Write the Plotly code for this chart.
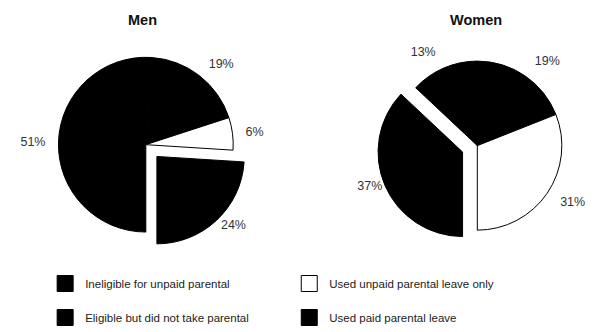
import plotly.graph_objects as go

# ---- data ----
categories = [
    "Ineligible for unpaid parental",
    "Eligible but did not take parental",
    "Used unpaid parental leave only",
    "Used paid parental leave",
]
men_values = [51, 19, 6, 24]
women_values = [13, 19, 31, 37]
panel_titles = ["Men", "Women"]

# ---- styles ----
slice_colors = ["#000000", "#000000", "#ffffff", "#000000"]
men_pull = [0, 0, 0, 0.185]
women_pull = [0, 0, 0, 0.19]
men_label_pull = [0, 0, 0, 0.08]
women_label_pull = [0, 0, 0, 0.04]
FONT = "Liberation Sans, Arial, sans-serif"
W, H = 598, 332


def px_x(v):
    return v / W


def px_y(v):
    return 1 - v / H


def domain(cx, cy, half):
    return dict(x=[max(0, px_x(cx - half)), min(1, px_x(cx + half))],
                y=[px_y(cy + half), px_y(cy - half)])


fig = go.Figure()

pie_common = dict(labels=categories, sort=False, direction="clockwise", showlegend=False)

panels = [
    # values, pull, label pull, rotation, centre x, centre y, radius, label radius
    (men_values, men_pull, men_label_pull, 180, 143, 152, 92, 102),
    (women_values, women_pull, women_label_pull, 313.2, 492, 153, 89, 101),
]

for vals, pull, lpull, rot, cx, cy, r, lr in panels:
    # visible pie (slices)
    fig.add_trace(go.Pie(
        values=vals, pull=pull, rotation=rot,
        domain=domain(cx, cy, r * (1 + max(pull))),
        marker=dict(colors=slice_colors, line=dict(color="#000000", width=1)),
        textinfo="none", hoverinfo="label+percent",
        **pie_common,
    ))
    # transparent companion pie carrying the percentage labels a little further out
    fig.add_trace(go.Pie(
        values=vals, pull=lpull, rotation=rot,
        domain=domain(cx, cy, lr * (1 + max(lpull))),
        marker=dict(colors=["rgba(0,0,0,0)"] * len(vals), line=dict(width=0)),
        textposition="outside", texttemplate="%{value}%",
        textfont=dict(family=FONT, size=12.5, color="#333333"),
        hoverinfo="skip",
        **pie_common,
    ))

# legend entries (two columns)
legend_of = ["legend", "legend", "legend2", "legend2"]
for name, col, lg in zip(categories, slice_colors, legend_of):
    fig.add_trace(go.Scatter(
        x=[None], y=[None], mode="markers", name=name, legend=lg, legendgroup=name,
        marker=dict(symbol="square", size=16, color=col, line=dict(color="#000000", width=1)),
        hoverinfo="skip",
    ))

legend_common = dict(
    yanchor="top", xanchor="left", bgcolor="rgba(0,0,0,0)", borderwidth=0,
    traceorder="grouped", tracegroupgap=15, itemwidth=30,
    font=dict(family=FONT, size=11.5, color="#222222"),
    itemclick=False, itemdoubleclick=False,
)

annotations = []
for title, cx in zip(panel_titles, [139, 491]):
    annotations.append(dict(
        text=f"<b>{title}</b>", x=px_x(cx), y=px_y(21), xref="paper", yref="paper",
        xanchor="center", yanchor="middle", showarrow=False,
        font=dict(family=FONT, size=14.5, color="#111111"),
    ))

fig.update_layout(
    width=W, height=H,
    margin=dict(l=0, r=0, t=0, b=0),
    paper_bgcolor="#ffffff", plot_bgcolor="#ffffff",
    xaxis=dict(visible=False), yaxis=dict(visible=False),
    legend=dict(x=px_x(37), y=px_y(283), **legend_common),
    legend2=dict(x=px_x(294), y=px_y(283), **legend_common),
    annotations=annotations,
)

fig.write_html("out.html")
